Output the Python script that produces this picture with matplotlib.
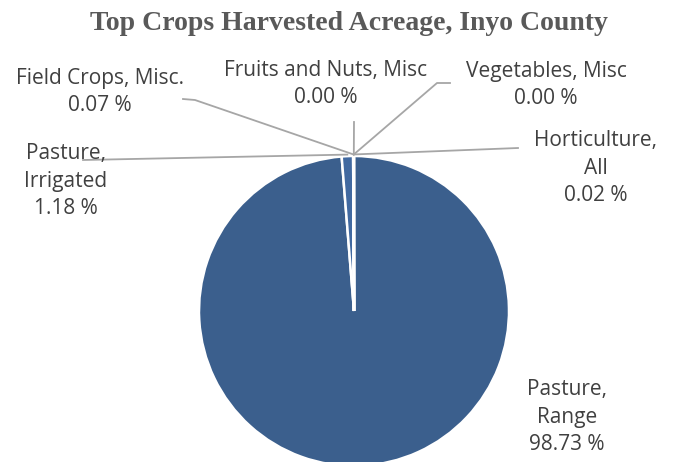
import numpy as np
import matplotlib
matplotlib.use('Agg')
import matplotlib.pyplot as plt
from matplotlib.lines import Line2D

crops = ['Pasture,\nRange', 'Pasture,\nIrrigated', 'Field Crops, Misc.',
         'Fruits and Nuts, Misc', 'Vegetables, Misc', 'Horticulture,\nAll']
shares = [98.73, 1.18, 0.07, 0.00, 0.00, 0.02]
colors = ['#3b5f8d', '#4169a0', '#3b5f8d', '#3b5f8d', '#3b5f8d', '#3b5f8d']

# label centres and leader elbows, in image pixels (top-left origin)
label_pos = [(567, 417), (66, 181), (100, 92), (326, 84), (546, 85), (596, 168)]
elbows = [None, [(83, 160)], [(195, 100), (183, 99)], [(354, 122)],
          [(437, 83), (450, 83)], [(518, 148)]]

W, H = 674, 462
fig = plt.figure(figsize=(W / 100, H / 100), dpi=100)

ax = fig.add_axes([199 / W, (H - 311 - 155) / H, 310 / W, 310 / H])
wedges, _ = ax.pie(shares, colors=colors, startangle=90, counterclock=False,
                   radius=1, wedgeprops=dict(edgecolor='white', linewidth=1.8))
ax.set_xlim(-1, 1)
ax.set_ylim(-1, 1)
ax.axis('off')

fig.text(349 / W, 1 - 23 / H, 'Top Crops Harvested Acreage, Inyo County',
         ha='center', va='center', fontsize=20, fontweight='bold',
         family='Liberation Serif', color='#595959')

for i, (name, v) in enumerate(zip(crops, shares)):
    x, y = label_pos[i]
    fig.text(x / W, 1 - y / H, f'{name}\n{v:.2f} %', ha='center', va='center',
             fontsize=15, family='Open Sans', color='#404040', linespacing=1.42)
    if elbows[i] is None:
        continue
    w = wedges[i]
    ang = np.deg2rad((w.theta1 + w.theta2) / 2)
    start = ax.transData.transform((1.01 * np.cos(ang), 1.01 * np.sin(ang)))
    pts = [tuple(start)] + [(px, H - py) for px, py in elbows[i]]
    xs = [p[0] / W for p in pts]
    ys = [p[1] / H for p in pts]
    fig.add_artist(Line2D(xs, ys, transform=fig.transFigure,
                          color='#a6a6a6', linewidth=1.3))

fig.savefig('out.png', dpi=100)
